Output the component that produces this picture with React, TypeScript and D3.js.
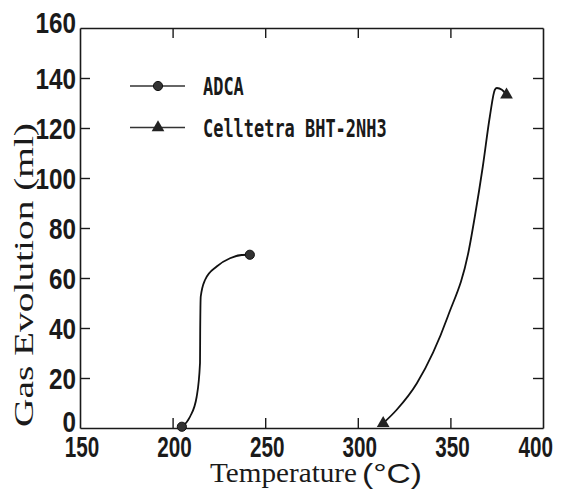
import React, {useEffect, useRef} from 'react';
import * as d3 from 'd3';

// curve points: [temperature, gas ml]
const adca: [number, number][] = [
    [205, 0.5], [209.4, 4.5], [213, 12.5], [214.8, 26], [214.9, 39.2], [215.2, 52.6],
    [217.5, 59.2], [223.8, 64.6], [231, 67.9], [237.3, 69.2], [241.7, 69.3],
];
const celltetra: [number, number][] = [
    [313.7, 1.9], [320.9, 7.2], [331.9, 17.9], [348.6, 44.6], [360, 71.3], [363.2, 84.6],
    [367.5, 104.6], [371.3, 124.6], [374, 135.3], [375.1, 136], [377.8, 135.3], [380.3, 133.3],
];
const seriesNames = ['ADCA', 'Celltetra BHT-2NH3'];
const xTicks = [150, 200, 250, 300, 350, 400];
const yTicks = [0, 20, 40, 60, 80, 100, 120, 140, 160];

const W = 561, H = 494;
const M = {left: 80, right: 18, top: 28, bottom: 66};

export default function App() {
    const ref = useRef<SVGSVGElement>(null);

    useEffect(() => {
        const svg = d3.select(ref.current);
        svg.selectAll('*').remove();

        const x = d3.scaleLinear().domain([150, 400]).range([M.left, W - M.right]);
        const y = d3.scaleLinear().domain([0, 160]).range([H - M.bottom, M.top]);
        const ink = '#1a1a1a';

        // frame + inward ticks
        const inner = (s: any) => s.call((g: any) => g.select('.domain').attr('stroke', ink).attr('stroke-width', 1.6))
            .call((g: any) => g.selectAll('line').attr('stroke', ink).attr('stroke-width', 1.4));
        const inX = xTicks.slice(1, -1), inY = yTicks.slice(1, -1);
        svg.append('g').attr('transform', `translate(0,${y(0)})`)
            .call(d3.axisBottom(x).tickValues(inX).tickSize(-10).tickSizeOuter(0).tickFormat(() => '')).call(inner);
        svg.append('g').attr('transform', `translate(0,${y(160)})`)
            .call(d3.axisTop(x).tickValues(inX).tickSize(-10).tickSizeOuter(0).tickFormat(() => '')).call(inner);
        svg.append('g').attr('transform', `translate(${x(150)},0)`)
            .call(d3.axisLeft(y).tickValues(inY).tickSize(-10).tickSizeOuter(0).tickFormat(() => '')).call(inner);
        svg.append('g').attr('transform', `translate(${x(400)},0)`)
            .call(d3.axisRight(y).tickValues(inY).tickSize(-10).tickSizeOuter(0).tickFormat(() => '')).call(inner);

        // tick labels (narrow, tall digits)
        const numFont = '"Liberation Sans", Arial, sans-serif';
        const xw = (d: number) => String(d).length * 11.5;
        svg.append('g').selectAll('text').data(xTicks).enter().append('text')
            .attr('x', (d) => Math.min(x(d) + 2 + xw(d) / 2, W - 8) - xw(d))
            .attr('y', y(0) + 29)
            .attr('font-family', numFont).attr('font-weight', 'bold').attr('font-size', 30).attr('fill', ink)
            .attr('textLength', xw).attr('lengthAdjust', 'spacingAndGlyphs')
            .text((d) => d);
        svg.append('g').selectAll('text').data(yTicks).enter().append('text')
            .attr('x', (d) => 76 - String(d).length * 13.5)
            .attr('y', (d) => y(d) + (d === 160 ? 5 : d === 0 ? 4 : 10.5))
            .attr('font-family', numFont).attr('font-weight', 'bold').attr('font-size', 29).attr('fill', ink)
            .attr('textLength', (d) => String(d).length * 13.5).attr('lengthAdjust', 'spacingAndGlyphs')
            .text((d) => d);

        // axis titles
        svg.append('text')
            .attr('x', 210).attr('y', 482)
            .attr('font-family', '"Liberation Serif", "Times New Roman", serif').attr('font-size', 27).attr('fill', ink)
            .attr('textLength', 147).attr('lengthAdjust', 'spacingAndGlyphs')
            .text('Temperature');
        svg.append('text')
            .attr('x', 362).attr('y', 483)
            .attr('font-family', '"Liberation Sans", Arial, sans-serif').attr('font-size', 28).attr('fill', ink)
            .attr('textLength', 60).attr('lengthAdjust', 'spacingAndGlyphs')
            .text('(°C)');
        svg.append('text')
            .attr('transform', `translate(33,${275}) rotate(-90)`)
            .attr('text-anchor', 'middle')
            .attr('font-family', '"Liberation Serif", "Times New Roman", serif').attr('font-size', 27).attr('fill', ink)
            .attr('textLength', 304).attr('lengthAdjust', 'spacingAndGlyphs')
            .text('Gas Evolution (ml)');

        // curves
        const line = d3.line<[number, number]>()
            .x((d) => x(d[0])).y((d) => y(d[1]))
            .curve(d3.curveMonotoneX);
        [adca, celltetra].forEach((data) => {
            svg.append('path').datum(data)
                .attr('d', line).attr('fill', 'none').attr('stroke', '#111').attr('stroke-width', 1.8);
        });

        const tri = d3.symbol().type(d3.symbolTriangle).size(70);
        const ends = (data: [number, number][]) => [data[0], data[data.length - 1]];
        svg.append('g').selectAll('circle').data(ends(adca)).enter().append('circle')
            .attr('cx', (d) => x(d[0])).attr('cy', (d) => y(d[1])).attr('r', 4.6)
            .attr('fill', '#333').attr('stroke', '#111');
        svg.append('g').selectAll('path').data(ends(celltetra)).enter().append('path')
            .attr('transform', (d) => `translate(${x(d[0])},${y(d[1])})`)
            .attr('d', tri).attr('fill', '#222');

        // legend
        const lg = svg.append('g');
        const rows = [86, 127.5];
        rows.forEach((ly, i) => {
            lg.append('line').attr('x1', 130).attr('x2', 185).attr('y1', ly).attr('y2', ly)
                .attr('stroke', '#333').attr('stroke-width', 1.5);
            if (i === 0) {
                lg.append('circle').attr('cx', 158).attr('cy', ly).attr('r', 4.6).attr('fill', '#333').attr('stroke', '#111');
            } else {
                lg.append('path').attr('transform', `translate(158,${ly})`).attr('d', tri).attr('fill', '#222');
            }
            lg.append('text')
                .attr('x', 203).attr('y', ly + 9)
                .attr('font-family', '"DejaVu Sans Mono", monospace').attr('font-weight', 'bold')
                .attr('font-size', 25).attr('fill', ink)
                .attr('textLength', seriesNames[i].length * 10.2).attr('lengthAdjust', 'spacingAndGlyphs')
                .text(seriesNames[i]);
        });
    }, []);

    return (
        <svg ref={ref} width={W} height={H}
             style={{position: 'absolute', left: 0, top: 0, background: '#fff'}}/>
    );
}
